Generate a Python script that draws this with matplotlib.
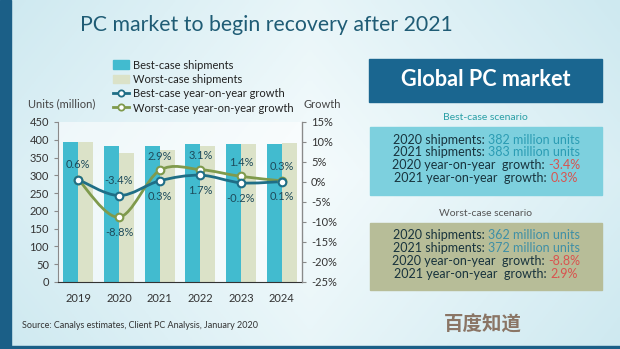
import matplotlib
matplotlib.use("Agg")
import matplotlib.pyplot as plt
import numpy as np
from matplotlib.path import Path
from matplotlib.patches import PathPatch, Rectangle
from matplotlib.lines import Line2D
from matplotlib.patches import Patch

plt.rcParams['font.family'] = ['Lato', 'DejaVu Sans']

# data
years = ['2019', '2020', '2021', '2022', '2023', '2024']
best_units = [395, 382, 383, 389, 389, 389]
worst_units = [395, 362, 372, 383, 389, 390]
best_growth = [0.6, -3.4, 0.3, 1.7, -0.2, 0.1]
worst_growth = [0.6, -8.8, 2.9, 3.1, 1.4, 0.3]
best_labels = ['0.6%', '-3.4%', '0.3%', '1.7%', '-0.2%', '0.1%']
worst_labels = ['', '-8.8%', '2.9%', '3.1%', '1.4%', '0.3%']
left_ticks = [0, 50, 100, 150, 200, 250, 300, 350, 400, 450]
right_ticks = [-25, -20, -15, -10, -5, 0, 5, 10, 15]

best_lines = [("2020 shipments: ", "382 million units"),
              ("2021 shipments: ", "383 million units"),
              ("2020 year-on-year  growth: ", "-3.4%"),
              ("2021 year-on-year  growth: ", "0.3%")]
worst_lines = [("2020 shipments: ", "362 million units"),
               ("2021 shipments: ", "372 million units"),
               ("2020 year-on-year  growth: ", "-8.8%"),
               ("2021 year-on-year  growth: ", "2.9%")]

BAR_BEST = '#42bbcf'
BAR_WORST = '#dbe2c8'
LINE_BEST = '#1f6e86'
LINE_WORST = '#7f9a4c'
DARK = '#18333d'

W, H = 620, 349
fig = plt.figure(figsize=(6.2, 3.49), dpi=100)

# background gradient
bg = fig.add_axes([0, 0, 1, 1])
gx, gy = np.meshgrid(np.linspace(0, 1, 200), np.linspace(0, 1, 120))
c1 = np.array([0.80, 0.91, 0.94])
c2 = np.array([0.96, 0.985, 0.99])
t = np.clip(1 - np.abs(gx - 0.5) * 1.3 - np.abs(gy - 0.5) * 0.6, 0, 1)[..., None]
img = c1 * (1 - t) + c2 * t
bg.imshow(img, extent=[0, W, H, 0], aspect='auto')
bg.set_xlim(0, W)
bg.set_ylim(H, 0)
bg.axis('off')
bg.add_patch(Rectangle((0, 0), 11, H, color='#1b5f87'))
bg.add_patch(Rectangle((0, H - 3), W, 3, color='#1b5f87'))

# title
bg.text(266, 25, "PC market to begin recovery after 2021", ha='center', va='center',
        fontsize=15.3, color='#1f5c75')

# right panel
bg.add_patch(Rectangle((369, 59), 233, 43, color='#1a6690'))
bg.text(485.5, 80, "Global PC market", ha='center', va='center', fontsize=15.6,
        color='white', fontweight='bold')
bg.text(485.5, 117, "Best-case scenario", ha='center', va='center', fontsize=7.5,
        color='#2a9fa6')
bg.add_patch(Rectangle((370, 127), 232, 68, color='#7dd0de'))
bg.text(485.5, 213, "Worst-case scenario", ha='center', va='center', fontsize=7.5,
        color='#555555')
bg.add_patch(Rectangle((370, 223), 232, 67, color='#b7bd98'))

renderer = fig.canvas.get_renderer()


def centred_line(y, part1, part2, col2):
    t1 = bg.text(0, y, part1, ha='left', va='center', fontsize=9, color=DARK)
    t2 = bg.annotate(part2, xy=(1, 0.5), xycoords=t1, ha='left', va='center',
                     fontsize=9, color=col2)
    w1 = t1.get_window_extent(renderer).width
    w2 = t2.get_window_extent(renderer).width
    t1.set_x(486 - (w1 + w2) / 2)


ys_best = [139.5, 152, 165, 177.5]
for (p1, p2), y in zip(best_lines, ys_best):
    col = '#2b9cb3' if 'units' in p2 else '#d9534f'
    centred_line(y, p1, p2, col)
ys_worst = [235, 248, 261, 273.5]
for (p1, p2), y in zip(worst_lines, ys_worst):
    col = '#3f8fa6' if 'units' in p2 else '#d9534f'
    centred_line(y, p1, p2, col)

# chart
ax = fig.add_axes([58 / W, 1 - 282 / H, 244 / W, 160 / H])
ax.set_facecolor((1, 1, 1, 0.55))
x = np.arange(len(years))
bw = 0.37
ax.bar(x - bw / 2, best_units, bw, color=BAR_BEST, zorder=2)
ax.bar(x + bw / 2, worst_units, bw, color=BAR_WORST, zorder=2)
ax.set_xlim(-0.5, 5.5)
ax.set_ylim(0, 450)
ax.set_yticks(left_ticks)
ax.set_xticks(x)
ax.set_xticklabels(years)
ax.spines['top'].set_visible(False)
ax.spines['left'].set_color('#8a8a8a')
ax.spines['bottom'].set_color('#333333')
ax.tick_params(axis='y', length=3, colors='#8a8a8a', labelcolor='#333333', labelsize=8)
ax.tick_params(axis='x', length=0, labelcolor='#333333', labelsize=8, pad=8)

ax2 = ax.twinx()
ax2.set_ylim(-25, 15)
ax2.set_yticks(right_ticks)
ax2.set_yticklabels([f"{v}%" for v in right_ticks])
ax2.spines['top'].set_visible(False)
ax2.spines['right'].set_color('#8a8a8a')
ax2.spines['left'].set_visible(False)
ax2.spines['bottom'].set_visible(False)
ax2.tick_params(axis='y', length=3, colors='#8a8a8a', labelcolor='#333333', labelsize=8)


def smooth_path(xs, ys):
    pts = np.column_stack([xs, ys]).astype(float)
    n = len(pts)
    verts = [pts[0]]
    codes = [Path.MOVETO]
    for i in range(n - 1):
        p0 = pts[max(i - 1, 0)]
        p1 = pts[i]
        p2 = pts[i + 1]
        p3 = pts[min(i + 2, n - 1)]
        verts += [p1 + (p2 - p0) / 6, p2 - (p3 - p1) / 6, p2]
        codes += [Path.CURVE4] * 3
    return Path(verts, codes)


for g, col in [(worst_growth, LINE_WORST), (best_growth, LINE_BEST)]:
    ax2.add_patch(PathPatch(smooth_path(x, g), facecolor='none', edgecolor=col,
                            lw=2, zorder=3))
    ax2.plot(x, g, 'o', ms=5.5, mfc='white', mec=col, mew=1.5, zorder=4)

lab_col = '#1d4a5a'
for i in range(len(years)):
    off = 11 if i in (0, 1) else -11
    ax2.annotate(best_labels[i], (x[i], best_growth[i]), xytext=(0, off),
                 textcoords='offset points', ha='center', va='center',
                 fontsize=8, color=lab_col, zorder=5)
    if worst_labels[i]:
        off = -11 if i == 1 else 10
        ax2.annotate(worst_labels[i], (x[i], worst_growth[i]), xytext=(0, off),
                     textcoords='offset points', ha='center', va='center',
                     fontsize=8, color=lab_col, zorder=5)

bg.text(62, 104, "Units (million)", ha='center', va='center', fontsize=8, color='#444444')
bg.text(322, 104, "Growth", ha='center', va='center', fontsize=8, color='#444444')

handles = [Patch(color=BAR_BEST), Patch(color=BAR_WORST),
           Line2D([], [], color=LINE_BEST, lw=2, marker='o', ms=4.5, mfc='white', mew=1.3),
           Line2D([], [], color=LINE_WORST, lw=2, marker='o', ms=4.5, mfc='white', mew=1.3)]
labels = ["Best-case shipments", "Worst-case shipments",
          "Best-case year-on-year growth", "Worst-case year-on-year growth"]
fig.legend(handles, labels, loc='upper left', bbox_to_anchor=(107 / W, 1 - 54 / H),
           frameon=False, fontsize=8, handlelength=1.5, handleheight=0.8,
           handletextpad=0.3, labelspacing=0.3, borderpad=0, labelcolor='#222222')

bg.text(22, 326, "Source: Canalys estimates, Client PC Analysis, January 2020",
        ha='left', va='center', fontsize=6.5, color='#333333')
bg.text(483, 325, "百度知道", ha='center', va='center', fontsize=14, fontweight='bold',
        color='#8a7565', family=['Noto Sans CJK SC', 'DejaVu Sans'])

fig.savefig("out.png", dpi=100)
